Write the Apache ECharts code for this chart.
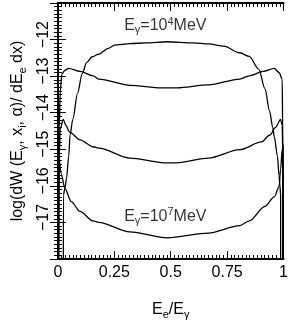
<!DOCTYPE html>
<html><head><meta charset="utf-8">
<script src="https://cdn.jsdelivr.net/npm/echarts@6/dist/echarts.min.js"></script>
<style>html,body{margin:0;padding:0;background:#fff;}#c{width:291px;height:325px;}</style>
</head><body><div id="c"></div>
<script>
// x = Ee/Eγ, y = log(dW/dEe dx)
const e4X = [0.024, 0.0246, 0.031, 0.038, 0.048, 0.054, 0.066, 0.087, 0.1075, 0.127, 0.152, 0.181, 0.223, 0.251, 0.319, 0.390, 0.485, 0.598, 0.669, 0.735, 0.806, 0.848, 0.890, 0.9175, 0.938, 0.952, 0.959, 0.973, 0.980, 0.984, 0.987, 0.9872];
const e4Y = [-18.4, -16.25, -16.07, -15.80, -15.19, -14.61, -14.18, -13.47, -12.94, -12.63, -12.47, -12.40, -12.24, -12.15, -12.11, -12.09, -12.06, -12.09, -12.12, -12.18, -12.36, -12.46, -12.81, -13.34, -13.95, -14.40, -14.66, -15.19, -15.72, -15.99, -16.25, -18.4];

const e5X = [0.0033, 0.006, 0.0104, 0.0175, 0.031, 0.048, 0.098, 0.156, 0.181, 0.319, 0.459, 0.527, 0.6675, 0.806, 0.848, 0.910, 0.959, 0.980, 0.994, 0.996, 0.997];
const e5Y = [-18.4, -14.40, -13.42, -12.94, -12.84, -12.79, -12.87, -12.99, -13.08, -13.25, -13.32, -13.32, -13.24, -13.08, -12.99, -12.87, -12.79, -12.90, -13.08, -14.40, -18.4];

const e6X = [0.0033, 0.006, 0.0104, 0.024, 0.035, 0.052, 0.098, 0.156, 0.181, 0.319, 0.473, 0.527, 0.6675, 0.806, 0.902, 0.9396, 0.965, 0.987, 0.994, 0.997, 0.998];
const e6Y = [-18.4, -15.19, -14.44, -14.18, -14.35, -14.53, -14.74, -14.93, -14.97, -15.24, -15.37, -15.37, -15.24, -15.01, -14.80, -14.61, -14.40, -14.18, -14.35, -15.19, -18.4];

const e7X = [0.0005, 0.0013, 0.0033, 0.0146, 0.031, 0.059, 0.098, 0.156, 0.181, 0.319, 0.485, 0.6675, 0.806, 0.848, 0.9175, 0.959, 0.980, 0.987, 0.994, 0.998, 0.999];
const e7Y = [-18.4, -14.93, -15.19, -15.67, -16.07, -16.43, -16.70, -16.96, -17.00, -17.26, -17.42, -17.29, -17.09, -16.96, -16.56, -16.30, -16.03, -15.54, -15.01, -14.88, -18.4];

const curveLabelX = [0.476, 0.476];
const curveLabelY = [-11.62, -16.83];
const curveLabelExp = ['4', '7'];

const xMin = 0, xMax = 1, xStep = 0.25;
const yMin = -18, yMax = -11, yStep = 1;

const pair = (xs, ys) => xs.map((x, i) => [x, ys[i]]);
const font = '"Liberation Sans", Arial, Helvetica, sans-serif';
const black = '#000';

const sub = {fontSize: 11, fontFamily: font, color: black, lineHeight: 11, padding: [9, 0, 0, 0]};
const sup = {fontSize: 11, fontFamily: font, color: black, lineHeight: 11, padding: [0, 0, 8, 0]};
const base = {fontSize: 16, fontFamily: font, color: black, lineHeight: 18};

function axisCommon(isX, show) {
  return {
    type: 'value',
    min: isX ? xMin : yMin, max: isX ? xMax : yMax, interval: isX ? xStep : yStep,
    axisLine: {show: true, lineStyle: {color: black, width: 2}},
    axisTick: {show: true, inside: true, length: 8, lineStyle: {color: black, width: 1}},
    minorTick: {show: true, splitNumber: isX ? 15 : 10, length: 4, lineStyle: {color: black, width: 1}},
    splitLine: {show: false},
    axisLabel: {show: show},
  };
}

const lineSeries = (xs, ys) => ({
  type: 'line', data: pair(xs, ys), showSymbol: false, symbol: 'none',
  smooth: 0.3, smoothMonotone: 'x', clip: true,
  lineStyle: {color: black, width: 1.3}, silent: true
});

const chart = echarts.init(document.getElementById('c'), null, {renderer: 'canvas'});
chart.setOption({
  animation: false,
  backgroundColor: '#fff',
  grid: {left: 46, right: 5, top: 2, bottom: 59, containLabel: false},
  xAxis: [
    Object.assign(axisCommon(true, true), {
      position: 'bottom',
      axisLabel: {show: true, margin: 6, fontSize: 16, fontFamily: font, color: black},
      name: '{b|E}{s|e}{b|/E}{s|γ}', nameLocation: 'middle', nameGap: 42,
      nameTextStyle: {rich: {b: base, s: sub}}
    }),
    Object.assign(axisCommon(true, false), {position: 'top'})
  ],
  yAxis: [
    Object.assign(axisCommon(false, true), {
      position: 'left',
      axisLabel: {show: true, rotate: 90, margin: 6, fontSize: 16, fontFamily: font, color: black,
        padding: [0, 0, 0, 10],
        formatter: v => (v === yMin || v === yMax) ? '' : '\u2212' + Math.abs(v)},
      name: '{b|log(dW (E}{s|γ}{b|, x}{s|i}{b|, α)/ dE}{s|e}{b| dx)}',
      nameLocation: 'middle', nameRotate: 90, nameGap: 26,
      nameTextStyle: {rich: {b: base, s: sub}}
    }),
    Object.assign(axisCommon(false, false), {position: 'right'})
  ],
  series: [
    lineSeries(e4X, e4Y),
    lineSeries(e5X, e5Y),
    lineSeries(e6X, e6Y),
    lineSeries(e7X, e7Y),
    {
      type: 'scatter', symbolSize: 0, silent: true,
      data: curveLabelX.map((x, i) => ({value: [x, curveLabelY[i]], exp: curveLabelExp[i]})),
      label: {
        show: true, position: 'inside',
        formatter: p => '{b|E}{s|γ}{b|=10}{u|' + p.data.exp + '}{b|MeV}',
        rich: {b: base, s: sub, u: sup}
      }
    }
  ]
});
</script>
</body></html>
